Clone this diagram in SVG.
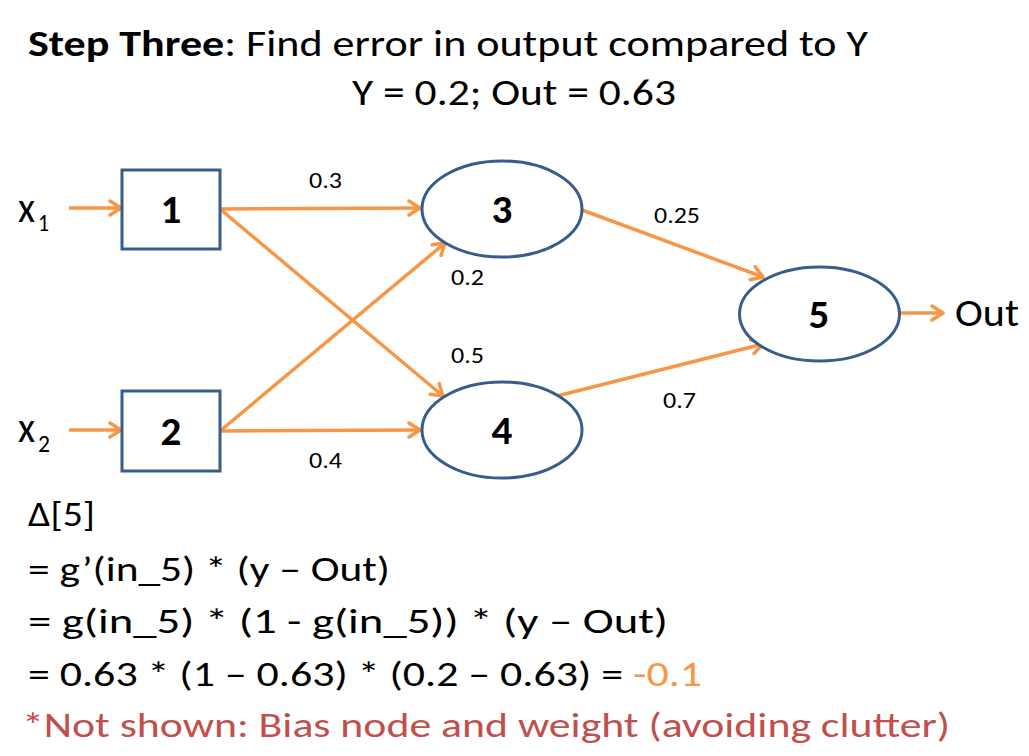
<svg xmlns="http://www.w3.org/2000/svg" width="1029" height="756" viewBox="0 0 1029 756">
<defs>
<style>
text{font-family:Carlito,"Open Sans","Liberation Sans",sans-serif;fill:#000}
.t{font-size:35px}
.h{font-size:36px}
.b{font-weight:bold}
.w{font-size:23px}
.n{font-size:41px;font-weight:bold;text-anchor:middle}
.node{fill:#fff;stroke:#385D8A;stroke-width:3}
.e{stroke:#F79646;stroke-width:3.5;fill:none;marker-end:url(#ah)}
</style>
<marker id="ah" markerUnits="userSpaceOnUse" markerWidth="18" markerHeight="18" viewBox="0 0 18 18" refX="15" refY="9" orient="auto">
<path d="M4,2 L15,9 L4,16" fill="none" stroke="#F79646" stroke-width="3.5" stroke-linecap="round" stroke-linejoin="round"/>
</marker>
</defs>
<rect width="1029" height="756" fill="#fff"/>
<text class="h" x="28" y="56" textLength="840" lengthAdjust="spacingAndGlyphs"><tspan class="b">Step Three</tspan>: Find error in output compared to Y</text>
<text class="h" x="352" y="105" textLength="324" lengthAdjust="spacingAndGlyphs">Y = 0.2; Out = 0.63</text>
<g id="connectors">
<line class="e" x1="69" y1="208" x2="121" y2="208"/>
<line class="e" x1="69" y1="430" x2="121" y2="430"/>
<line class="e" x1="220" y1="209" x2="420" y2="208"/>
<line class="e" x1="220" y1="431" x2="420" y2="430"/>
<line class="e" x1="220" y1="209" x2="443" y2="396"/>
<line class="e" x1="220" y1="431" x2="445" y2="243"/>
<line class="e" x1="582" y1="210" x2="763" y2="277"/>
<line class="e" x1="557" y1="396" x2="763" y2="344"/>
<line class="e" x1="899" y1="313" x2="943" y2="313"/>
<text class="w" x="309" y="188" textLength="33" lengthAdjust="spacingAndGlyphs">0.3</text>
<text class="w" x="309" y="468" textLength="33" lengthAdjust="spacingAndGlyphs">0.4</text>
<text class="w" x="451" y="285" textLength="33" lengthAdjust="spacingAndGlyphs">0.2</text>
<text class="w" x="451" y="363" textLength="33" lengthAdjust="spacingAndGlyphs">0.5</text>
<text class="w" x="654" y="223" textLength="46" lengthAdjust="spacingAndGlyphs">0.25</text>
<text class="w" x="663" y="408" textLength="33" lengthAdjust="spacingAndGlyphs">0.7</text>
</g>
<g id="x1"><text x="18" y="222" font-size="44" textLength="17" lengthAdjust="spacingAndGlyphs">x</text><text x="38" y="231" font-size="25" textLength="11" lengthAdjust="spacingAndGlyphs">1</text></g>
<g id="x2"><text x="18" y="442" font-size="44" textLength="17" lengthAdjust="spacingAndGlyphs">x</text><text x="38" y="452" font-size="25" textLength="12" lengthAdjust="spacingAndGlyphs">2</text></g>
<g id="n1"><rect class="node" x="122" y="170" width="98" height="79"/><text class="n" x="171" y="223">1</text></g>
<g id="n2"><rect class="node" x="122" y="391" width="98" height="80"/><text class="n" x="171" y="445">2</text></g>
<g id="n3"><ellipse class="node" cx="502" cy="209" rx="80" ry="48"/><text class="n" x="502" y="223">3</text></g>
<g id="n4"><ellipse class="node" cx="502" cy="430" rx="80" ry="48"/><text class="n" x="502" y="444">4</text></g>
<g id="n5"><ellipse class="node" cx="819.5" cy="314" rx="80" ry="47"/><text class="n" x="819" y="328">5</text></g>
<g id="out"><text x="955" y="326" font-size="39" textLength="64" lengthAdjust="spacingAndGlyphs">Out</text></g>
<g id="formula">
<text class="t" x="28" y="526" textLength="67" lengthAdjust="spacingAndGlyphs">Δ[5]</text>
<text class="t" x="28" y="581" textLength="362" lengthAdjust="spacingAndGlyphs">= g’(in_5) * (y – Out)</text>
<text class="t" x="28" y="633" textLength="640" lengthAdjust="spacingAndGlyphs">= g(in_5) * (1 - g(in_5)) * (y – Out)</text>
<text class="t" x="28" y="686" textLength="674" lengthAdjust="spacingAndGlyphs">= 0.63 * (1 – 0.63) * (0.2 – 0.63) = <tspan fill="#F79646" style="fill:#F79646">-0.1</tspan></text>
<text class="t" x="22" y="737" style="fill:#C0504D" textLength="928" lengthAdjust="spacingAndGlyphs">*Not shown: Bias node and weight (avoiding clutter)</text>
</g>
</svg>
